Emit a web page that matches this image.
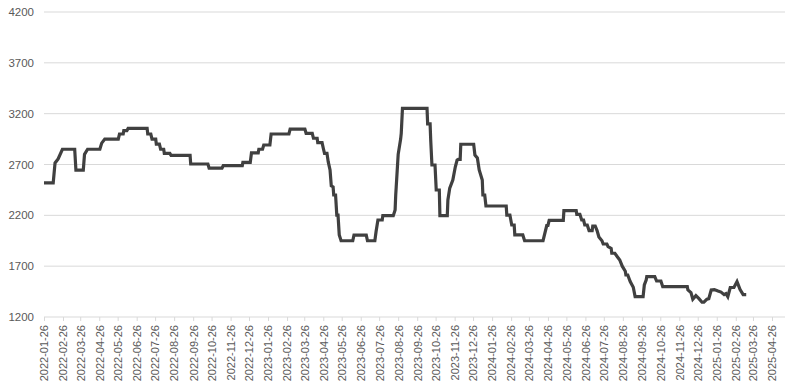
<!DOCTYPE html>
<html>
<head>
<meta charset="utf-8">
<script src="https://cdn.jsdelivr.net/npm/d3@7"></script>
<style>
    body { margin: 0; background: #fff; }
    text { font-family: "Liberation Sans", Arial, sans-serif; }
</style>
</head>
<body>
<div class="line-chart"></div>
<script>
const width = 785;
const height = 391;
const margin = { left: 44, right: 13, top: 12, bottom: 74 };

// price change points: days after 2022-01-26 and the price reached on that day
const startDate = "2022-01-26";
const dayOffsets = [
    0, 15, 18, 23, 30, 50, 52, 64, 66, 71, 91, 94, 99, 121, 123, 129, 130, 135, 137, 168,
    169, 174, 176, 182, 183, 188, 190, 195, 196, 205, 207, 238, 239, 267, 269, 290, 292, 323, 324, 336,
    338, 349, 350, 356, 358, 368, 370, 399, 401, 425, 427, 437, 439, 445, 446, 453, 455, 457, 461, 463,
    466, 468, 471, 472, 475, 477, 479, 481, 484, 503, 505, 525, 527, 539, 541, 544, 551, 552, 569, 572,
    573, 577, 581, 582, 584, 624, 625, 629, 630, 632, 637, 639, 644, 645, 657, 658, 661, 666, 670, 673,
    675, 678, 679, 700, 702, 706, 709, 714, 715, 718, 720, 753, 754, 759, 762, 766, 767, 780, 783, 813,
    819, 821, 823, 846, 847, 867, 868, 873, 876, 879, 881, 885, 888, 893, 894, 898, 901, 904, 909, 911,
    917, 919, 924, 925, 930, 934, 938, 942, 947, 948, 951, 955, 960, 963, 976, 978, 981, 982, 995, 998,
    1005, 1008, 1048, 1049, 1054, 1057, 1062, 1067, 1072, 1075, 1080, 1083, 1087, 1092, 1098, 1103, 1108, 1111, 1114, 1118,
    1124, 1129, 1134, 1139, 1144
];
const prices = [
    2520, 2520, 2715, 2755, 2850, 2850, 2645, 2645, 2800, 2850, 2850, 2910, 2950, 2950, 3000, 3000, 3033, 3033, 3055, 3055,
    3000, 3000, 2950, 2950, 2900, 2900, 2850, 2850, 2810, 2810, 2790, 2790, 2705, 2705, 2665, 2665, 2688, 2688, 2720, 2720,
    2815, 2815, 2850, 2850, 2892, 2892, 3000, 3000, 3048, 3048, 3007, 3007, 2958, 2958, 2915, 2915, 2860, 2810, 2810, 2728,
    2646, 2490, 2480, 2400, 2400, 2203, 2203, 2007, 1950, 1950, 2005, 2005, 1950, 1950, 2040, 2154, 2154, 2197, 2197, 2253,
    2400, 2800, 2950, 3007, 3253, 3253, 3099, 3099, 2941, 2695, 2695, 2449, 2449, 2197, 2197, 2351, 2468, 2548, 2675, 2744,
    2751, 2751, 2899, 2899, 2793, 2764, 2646, 2548, 2400, 2400, 2292, 2292, 2203, 2203, 2105, 2105, 2007, 2007, 1950, 1950,
    2100, 2100, 2150, 2150, 2246, 2246, 2210, 2210, 2154, 2154, 2105, 2105, 2050, 2050, 2095, 2095, 2050, 1987, 1950, 1918,
    1918, 1892, 1875, 1827, 1827, 1793, 1761, 1700, 1650, 1613, 1613, 1548, 1492, 1400, 1400, 1515, 1564, 1597, 1597, 1554,
    1554, 1498, 1498, 1466, 1440, 1375, 1410, 1380, 1345, 1345, 1375, 1380, 1466, 1470, 1455, 1445, 1420, 1430, 1400, 1490,
    1490, 1548, 1470, 1420, 1420
];

const yTicks = [1200, 1700, 2200, 2700, 3200, 3700, 4200];
const xTickLabels = [
    "2022-01-26", "2022-02-26", "2022-03-26", "2022-04-26", "2022-05-26",
    "2022-06-26", "2022-07-26", "2022-08-26", "2022-09-26", "2022-10-26",
    "2022-11-26", "2022-12-26", "2023-01-26", "2023-02-26", "2023-03-26",
    "2023-04-26", "2023-05-26", "2023-06-26", "2023-07-26", "2023-08-26",
    "2023-09-26", "2023-10-26", "2023-11-26", "2023-12-26", "2024-01-26",
    "2024-02-26", "2024-03-26", "2024-04-26", "2024-05-26", "2024-06-26",
    "2024-07-26", "2024-08-26", "2024-09-26", "2024-10-26", "2024-11-26",
    "2024-12-26", "2025-01-26", "2025-02-26", "2025-03-26", "2025-04-26"
];

const parseDate = d3.utcParse("%Y-%m-%d");
const fmtDate = d3.utcFormat("%Y-%m-%d");

const data = dayOffsets.map((d, i) => ({
    date: d3.utcDay.offset(parseDate(startDate), d),
    value: prices[i],
}));

function lineChart() {
    const svg = d3
        .select(".line-chart")
        .append("svg")
        .attr("width", width)
        .attr("height", height);

    const x = d3
        .scaleUtc()
        .domain([parseDate(xTickLabels[0]), parseDate(xTickLabels[xTickLabels.length - 1])])
        .range([margin.left, 772]);

    const y = d3
        .scaleLinear()
        .domain([1200, 4200])
        .range([height - margin.bottom, margin.top]);

    // horizontal gridlines
    svg.append("g")
        .selectAll("line")
        .data(yTicks.slice(1))
        .enter()
        .append("line")
        .attr("x1", margin.left)
        .attr("x2", width)
        .attr("y1", (d) => y(d))
        .attr("y2", (d) => y(d))
        .attr("stroke", "#d9d9d9")
        .attr("stroke-width", 1);

    // y labels
    svg.append("g")
        .selectAll("text")
        .data(yTicks)
        .enter()
        .append("text")
        .attr("x", 34)
        .attr("y", (d) => y(d))
        .attr("dy", "0.35em")
        .attr("text-anchor", "end")
        .attr("font-size", 11.5)
        .attr("fill", "#595959")
        .text((d) => d);

    // baseline
    svg.append("line")
        .attr("x1", margin.left)
        .attr("x2", width)
        .attr("y1", y(1200))
        .attr("y2", y(1200))
        .attr("stroke", "#d9d9d9");

    const xAxis = d3
        .axisBottom(x)
        .tickValues(xTickLabels.map(parseDate))
        .tickFormat(fmtDate)
        .tickSize(4)
        .tickSizeOuter(0);

    const gx = svg.append("g")
        .attr("transform", `translate(0,${y(1200)})`)
        .call(xAxis);
    gx.select(".domain").remove();
    gx.selectAll(".tick line").attr("stroke", "#d9d9d9");
    gx.selectAll(".tick text")
        .attr("transform", "rotate(-90)")
        .attr("x", -8)
        .attr("y", 0)
        .attr("dy", "0.35em")
        .style("text-anchor", "end")
        .attr("font-size", 11)
        .attr("font-family", "Liberation Sans, Arial, sans-serif")
        .attr("fill", "#595959");

    const line = d3
        .line()
        .x((d) => x(d.date))
        .y((d) => y(d.value));

    svg.append("path")
        .datum(data)
        .attr("d", line)
        .attr("fill", "none")
        .attr("stroke", "#404040")
        .attr("stroke-width", 3.2)
        .attr("stroke-linejoin", "miter");
}

lineChart();
</script>
</body>
</html>
